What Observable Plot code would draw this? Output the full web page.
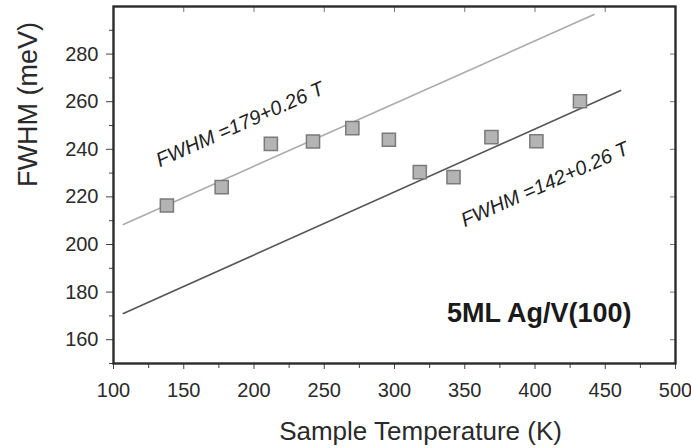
<!DOCTYPE html>
<html><head><meta charset="utf-8">
<script src="https://cdn.jsdelivr.net/npm/d3@7"></script>
<script src="https://cdn.jsdelivr.net/npm/@observablehq/plot@0.6"></script>
<style>
html,body{margin:0;padding:0;background:#fff;}
</style></head><body><div id="chart"></div>
<script>
// measured data (Sample Temperature in K, FWHM in meV)
const temperature = [138, 177, 212, 242, 270, 296, 318, 342, 369, 401, 432];
const fwhm = [216.4, 224.1, 242.3, 243.3, 248.9, 244.0, 230.4, 228.3, 245.1, 243.4, 260.2];
// fit lines (endpoints)
const upperFitT = [107, 442];
const upperFitV = [208.4, 296.6];
const lowerFitT = [107, 461];
const lowerFitV = [171.0, 264.7];
// ticks
const xTicks = [100, 150, 200, 250, 300, 350, 400, 450, 500];
const xMinorTicks = [125, 175, 225, 275, 325, 375, 425, 475];
const yTicks = [160, 180, 200, 220, 240, 260, 280];
const yMinorTicks = [150, 170, 190, 210, 230, 250, 270, 290];
// annotations
const noteText = ["FWHM =179+0.26 T", "FWHM =142+0.26 T"];
const noteT = [190, 407];
const noteV = [250.4, 225.2];
const sampleLabel = ["5ML Ag/V(100)"];
const sampleT = [403];
const sampleV = [171];

const points = temperature.map((t, i) => ({t, v: fwhm[i]}));
const upper = upperFitT.map((t, i) => ({t, v: upperFitV[i]}));
const lower = lowerFitT.map((t, i) => ({t, v: lowerFitV[i]}));
const notes = noteText.map((s, i) => ({s, t: noteT[i], v: noteV[i]}));
const sample = sampleLabel.map((s, i) => ({s, t: sampleT[i], v: sampleV[i]}));

const font = "'Liberation Sans', Arial, Helvetica, sans-serif";
const chart = Plot.plot({
  width: 691,
  height: 448,
  marginLeft: 113,
  marginRight: 16,
  marginTop: 6,
  marginBottom: 85,
  style: {fontFamily: font, fontSize: "20px", color: "#2a2a2a", background: "#fff"},
  x: {domain: [100, 500]},
  y: {domain: [150, 300]},
  marks: [
    Plot.line(upper, {x: "t", y: "v", stroke: "#ababab", strokeWidth: 1.6}),
    Plot.line(lower, {x: "t", y: "v", stroke: "#555", strokeWidth: 1.6}),
    Plot.dot(points, {x: "t", y: "v", symbol: "square", r: 7.4, fill: "#b4b4b4", stroke: "#7a7a7a", strokeWidth: 1.5}),
    Plot.axisX({ticks: xTicks, tickSize: 6, tickPadding: 13, label: null, stroke: "#444"}),
    Plot.axisX({ticks: xMinorTicks, tickSize: 5, tickFormat: () => "", label: null, stroke: "#444"}),
    Plot.axisX({anchor: "top", ticks: xTicks, tickSize: 5, dy: 5, tickFormat: () => "", label: null, stroke: "#777"}),
    Plot.axisY({ticks: yTicks, tickSize: 7, tickPadding: 8, label: null, stroke: "#444"}),
    Plot.axisY({ticks: yMinorTicks, tickSize: 4, tickFormat: () => "", label: null, stroke: "#444"}),
    Plot.axisY({anchor: "right", ticks: yTicks, tickSize: 6, dx: -6, tickFormat: () => "", label: null, stroke: "#777"}),
    Plot.frame({stroke: "#2b2b2b", strokeWidth: 2.4}),
    Plot.text(notes, {x: "t", y: "v", text: "s", rotate: -24, fontSize: 20, fill: "#222", fontStyle: "italic"}),
    Plot.text(sample, {x: "t", y: "v", text: "s", fontSize: 27, fontWeight: "bold", fill: "#1a1a1a"}),
    Plot.text(["FWHM (meV)"], {frameAnchor: "left", dx: -85, dy: 2, rotate: -90, fontSize: 27, fill: "#2a2a2a"}),
    Plot.text(["Sample Temperature (K)"], {frameAnchor: "bottom", dx: 26, dy: 76, fontSize: 26, fill: "#2a2a2a"})
  ]
});
document.getElementById("chart").appendChild(chart);
</script></body></html>
